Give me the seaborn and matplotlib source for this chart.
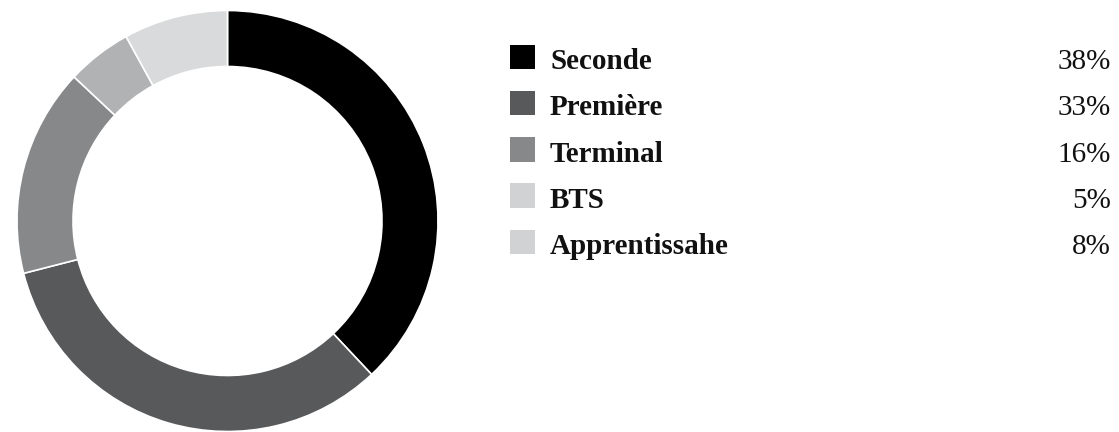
import matplotlib
matplotlib.use("Agg")
import matplotlib.pyplot as plt
from matplotlib.patches import Rectangle
import seaborn as sns

labels = ["Seconde", "Première", "Terminal", "BTS", "Apprentissahe"]
values = [38, 33, 16, 5, 8]
pie_colors = ["#000000", "#58595b", "#87888a", "#b1b2b4", "#d9dadb"]
legend_colors = ["#000000", "#58595b", "#87888a", "#d1d2d4", "#d1d2d4"]

sns.set_theme(style="white")
plt.rcParams["font.family"] = ["Liberation Serif", "DejaVu Serif"]

W, H = 1119, 432
fig = plt.figure(figsize=(W / 100, H / 100), dpi=100)
fig.patch.set_facecolor("white")

cx, cy, r = 227.5, 221.0, 210.5
ax = fig.add_axes([(cx - r) / W, (H - cy - r) / H, 2 * r / W, 2 * r / H])
ax.pie(values, colors=pie_colors, startangle=90, counterclock=False, radius=1.0,
       wedgeprops=dict(width=1 - 154.5 / 210.5, edgecolor="white", linewidth=1.2))
ax.set_xlim(-1, 1)
ax.set_ylim(-1, 1)
ax.set_aspect("equal")
ax.axis("off")

sq_x, sq = 510, 24.5
text_x, pct_x = 550, 1111
top0, step = 44.5, 46.3
for i, (lab, val, col) in enumerate(zip(labels, values, legend_colors)):
    top = top0 + i * step
    bottom = top + sq
    fig.patches.append(Rectangle((sq_x / W, (H - bottom) / H), sq / W, sq / H,
                                 transform=fig.transFigure, facecolor=col,
                                 edgecolor="none"))
    fig.text(text_x / W, (H - bottom) / H, lab, fontsize=21, fontweight="bold",
             ha="left", va="baseline", color="#111111")
    fig.text(pct_x / W, (H - bottom) / H, f"{val}%", fontsize=21,
             ha="right", va="baseline", color="#111111")

fig.savefig("out.png", dpi=100, facecolor="white")
